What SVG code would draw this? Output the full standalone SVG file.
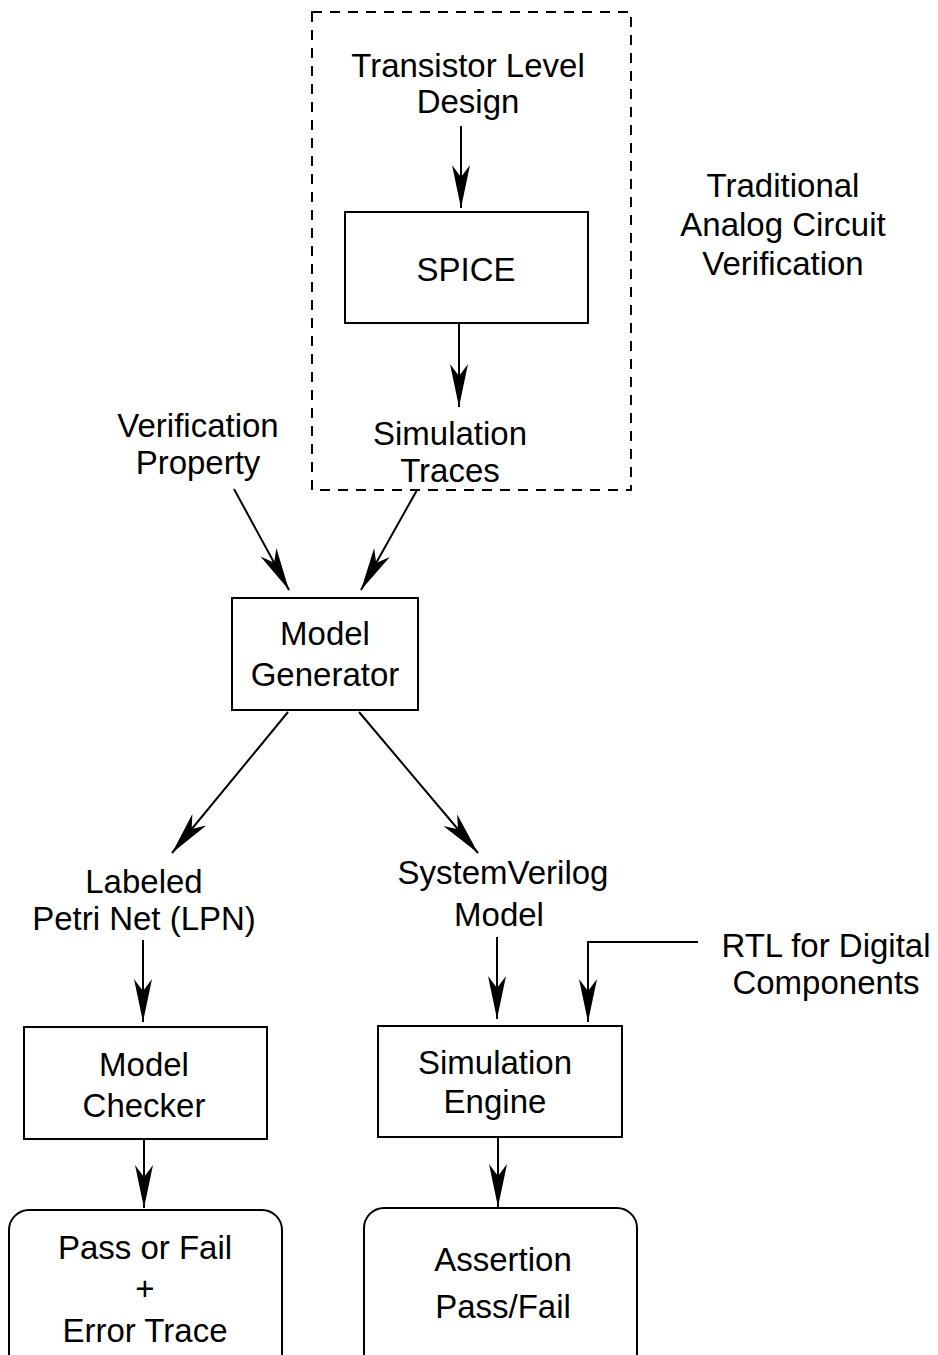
<svg xmlns="http://www.w3.org/2000/svg" width="938" height="1355" viewBox="0 0 938 1355">
<style>
text{font-family:"Liberation Sans",Arial,Helvetica,sans-serif;font-size:33px;fill:#000;text-anchor:middle}
.box{fill:none;stroke:#000;stroke-width:2}
.edge{fill:none;stroke:#000;stroke-width:2}
.dash{fill:none;stroke:#000;stroke-width:2;stroke-dasharray:10 8}
</style>
<defs>
<marker id="ah" markerUnits="userSpaceOnUse" markerWidth="50" markerHeight="22" viewBox="-45 -11 47 22" refX="0" refY="0" orient="auto">
<path d="M0,0 L-43,-9 L-31,0 L-43,9 Z" fill="#000"/>
</marker>
</defs>
<rect width="938" height="1355" fill="#fff"/>
<g id="traditional-group">
<rect class="dash" x="312" y="12" width="319" height="478"/>
</g>
<g id="transistor-level-design">
<text x="468" y="77">Transistor Level</text>
<text x="468" y="113">Design</text>
</g>
<g id="spice">
<rect class="box" x="345" y="212" width="243" height="111"/>
<text x="466" y="281">SPICE</text>
</g>
<g id="simulation-traces">
<text x="450" y="445">Simulation</text>
<text x="450" y="482">Traces</text>
</g>
<g id="traditional-label">
<text x="783" y="197">Traditional</text>
<text x="783" y="236">Analog Circuit</text>
<text x="783" y="275">Verification</text>
</g>
<g id="verification-property">
<text x="198" y="437">Verification</text>
<text x="198" y="474">Property</text>
</g>
<g id="model-generator">
<rect class="box" x="232" y="598" width="186" height="112"/>
<text x="325" y="645">Model</text>
<text x="325" y="686">Generator</text>
</g>
<g id="lpn">
<text x="144" y="893">Labeled</text>
<text x="144" y="930">Petri Net (LPN)</text>
</g>
<g id="systemverilog-model">
<text x="503" y="884">SystemVerilog</text>
<text x="499" y="926">Model</text>
</g>
<g id="rtl">
<text x="826" y="957">RTL for Digital</text>
<text x="826" y="994">Components</text>
</g>
<g id="model-checker">
<rect class="box" x="24" y="1027" width="243" height="112"/>
<text x="144" y="1076">Model</text>
<text x="144" y="1117">Checker</text>
</g>
<g id="simulation-engine">
<rect class="box" x="378" y="1026" width="244" height="111"/>
<text x="495" y="1074">Simulation</text>
<text x="495" y="1113">Engine</text>
</g>
<g id="pass-fail-error">
<rect class="box" x="9" y="1210" width="273" height="170" rx="20" ry="20"/>
<text x="145" y="1259">Pass or Fail</text>
<text x="145" y="1300">+</text>
<text x="145" y="1342">Error Trace</text>
</g>
<g id="assertion">
<rect class="box" x="364" y="1208" width="273" height="172" rx="20" ry="20"/>
<text x="503" y="1271">Assertion</text>
<text x="503" y="1318">Pass/Fail</text>
</g>
<g id="connectors">
<line class="edge" x1="461" y1="126" x2="461" y2="208" marker-end="url(#ah)"/>
<line class="edge" x1="459" y1="323" x2="459" y2="407" marker-end="url(#ah)"/>
<line class="edge" x1="234" y1="489" x2="289" y2="590" marker-end="url(#ah)"/>
<line class="edge" x1="417" y1="490" x2="361" y2="590" marker-end="url(#ah)"/>
<line class="edge" x1="288" y1="712" x2="172" y2="853" marker-end="url(#ah)"/>
<line class="edge" x1="359" y1="712" x2="478" y2="853" marker-end="url(#ah)"/>
<line class="edge" x1="143" y1="940" x2="143" y2="1022" marker-end="url(#ah)"/>
<line class="edge" x1="497" y1="937" x2="497" y2="1019" marker-end="url(#ah)"/>
<polyline class="edge" points="698,942 588,942 588,1022" marker-end="url(#ah)"/>
<line class="edge" x1="144" y1="1139" x2="144" y2="1208" marker-end="url(#ah)"/>
<line class="edge" x1="498" y1="1137" x2="498" y2="1207" marker-end="url(#ah)"/>
</g>
</svg>
